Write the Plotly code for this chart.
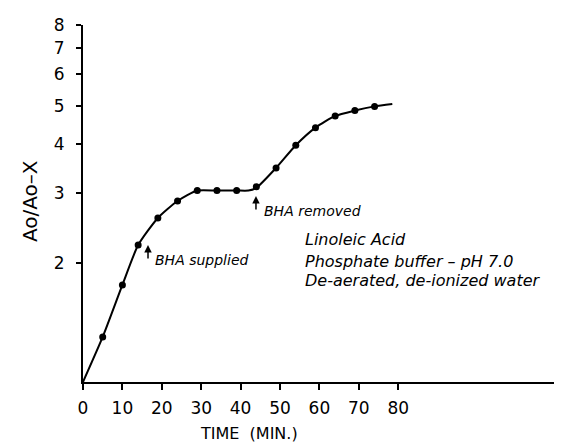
import numpy as np
import plotly.graph_objects as go

# Data
time_pts = [5, 10, 14, 19, 24, 29, 34, 39, 44, 49, 54, 59, 64, 69, 74]
ratio_pts = [1.30, 1.76, 2.22, 2.60, 2.87, 3.05, 3.05, 3.05, 3.12, 3.48, 3.97, 4.40, 4.71, 4.86, 4.98]

curve_x = [0, 5, 10, 14, 19, 24, 29, 34, 39, 42, 44, 49, 54, 59, 64, 69, 74, 78.5]
curve_y = [1.0, 1.30, 1.76, 2.22, 2.60, 2.87, 3.05, 3.05, 3.05, 3.05, 3.10, 3.48, 3.97, 4.40, 4.71, 4.86, 4.98, 5.05]

x_ticks = [0, 10, 20, 30, 40, 50, 60, 70, 80]
y_ticks = [2, 3, 4, 5, 6, 7, 8]

notes = ["Linoleic Acid", "Phosphate buffer \u2013 pH 7.0", "De-aerated, de-ionized water"]
notes_y = [2.287, 2.023, 1.801]

FONT = "DejaVu Sans"

fig = go.Figure()
fig.add_trace(go.Scatter(x=curve_x, y=curve_y, mode="lines",
                         line=dict(color="black", width=2, shape="spline", smoothing=0.6),
                         hoverinfo="skip", showlegend=False))
fig.add_trace(go.Scatter(x=time_pts, y=ratio_pts, mode="markers",
                         marker=dict(color="black", size=7), showlegend=False))

annotations = []
# arrows
annotations.append(dict(x=16.5, y=np.log10(2.222), xref="x", yref="y", text="", showarrow=True,
                        arrowhead=2, arrowsize=1, arrowwidth=1.5, arrowcolor="black",
                        ax=0, ay=15, standoff=0))
annotations.append(dict(x=43.9, y=np.log10(2.955), xref="x", yref="y", text="", showarrow=True,
                        arrowhead=2, arrowsize=1, arrowwidth=1.5, arrowcolor="black",
                        ax=0, ay=15, standoff=0))
annotations.append(dict(x=17.8, y=np.log10(2.036), xref="x", yref="y", text="<i>BHA supplied</i>",
                        showarrow=False, xanchor="left", yanchor="middle",
                        font=dict(family=FONT, size=14, color="black")))
annotations.append(dict(x=45.5, y=np.log10(2.708), xref="x", yref="y", text="<i>BHA removed</i>",
                        showarrow=False, xanchor="left", yanchor="middle",
                        font=dict(family=FONT, size=14, color="black")))
for txt, yv in zip(notes, notes_y):
    annotations.append(dict(x=55.8, y=np.log10(yv), xref="x", yref="y",
                            text="<i>%s</i>" % txt,
                            showarrow=False, xanchor="left", yanchor="middle", align="left",
                            font=dict(family=FONT, size=16, color="black")))
# axis titles
annotations.append(dict(x=0.340, y=-0.1445, xref="paper", yref="paper", text="TIME  (MIN.)",
                        showarrow=False, xanchor="center", yanchor="middle",
                        font=dict(family=FONT, size=16, color="black")))
annotations.append(dict(x=-0.1088, y=0.507, xref="paper", yref="paper", text="Ao/Ao\u2013X",
                        showarrow=False, textangle=-90, xanchor="center", yanchor="middle",
                        font=dict(family=FONT, size=20, color="black")))

fig.update_layout(
    width=562, height=442,
    margin=dict(l=75, r=0, t=17, b=68),
    paper_bgcolor="white", plot_bgcolor="white",
    font=dict(family=FONT, size=17, color="black"),
    annotations=annotations,
)
fig.update_xaxes(range=[0, 123.6], tickvals=x_ticks, ticktext=[str(v) for v in x_ticks],
                 showgrid=False, zeroline=False, showline=True, linecolor="black", linewidth=2,
                 ticks="outside", ticklen=6, tickwidth=1.5, tickcolor="black",
                 ticklabelstandoff=4, tickfont=dict(family=FONT, size=17))
fig.update_yaxes(type="log", range=[0, np.log10(8)], tickvals=y_ticks,
                 ticktext=[str(v) for v in y_ticks],
                 showgrid=False, zeroline=False, showline=True, linecolor="black", linewidth=2,
                 ticks="outside", ticklen=5, tickwidth=1.5, tickcolor="black",
                 ticklabelstandoff=8, tickfont=dict(family=FONT, size=17))

fig.write_html("out.html")
